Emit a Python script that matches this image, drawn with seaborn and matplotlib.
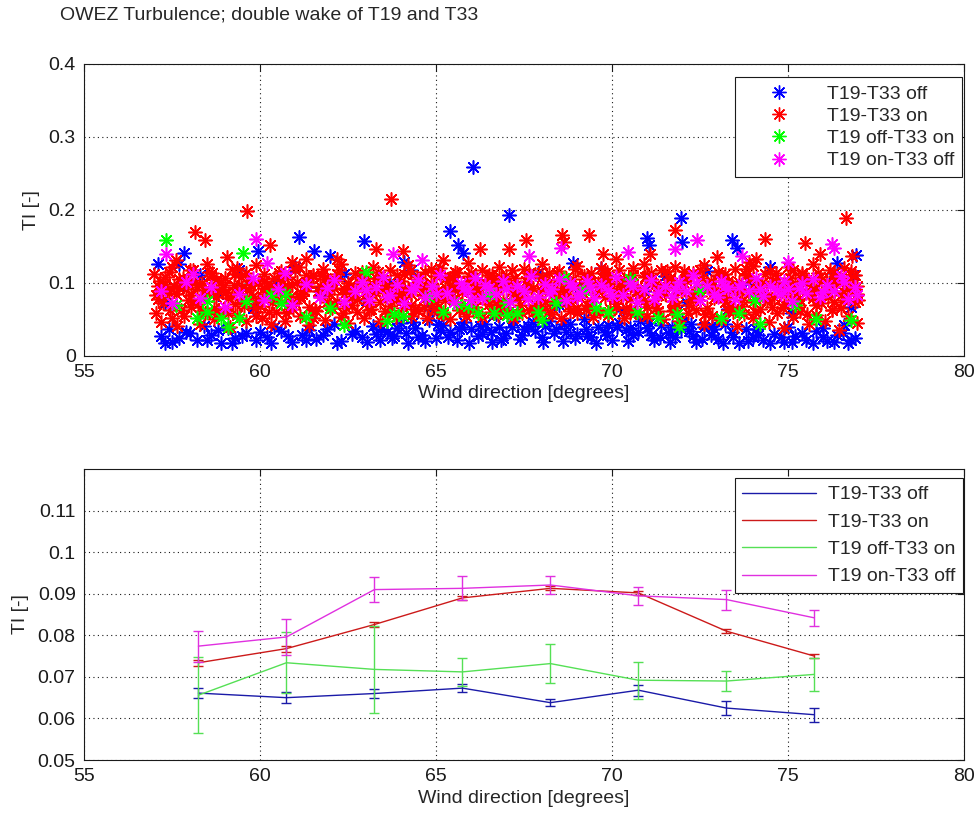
import matplotlib
matplotlib.use("Agg")
import matplotlib.pyplot as plt
from matplotlib.lines import Line2D
from matplotlib.ticker import FormatStrFormatter
import pandas as pd
import seaborn as sns

# ---------------------------------------------------------------------------
# Scatter data: (wind direction [deg], turbulence intensity [-]) per case
# ---------------------------------------------------------------------------
t19_t33_off = [
    (57.2, .027), (57.5, .019), (57.9, .033), (58.2, .022), (58.6, .029), (58.9, .018), (59.3, .024),
    (59.6, .031), (59.9, .021), (60.2, .026), (60.6, .034), (60.9, .019), (61.2, .028), (61.6, .023),
    (61.9, .036), (62.3, .020), (62.6, .030), (62.9, .025), (63.2, .041), (63.4, .022), (63.6, .033),
    (63.8, .027), (64.0, .045), (64.2, .018), (64.4, .038), (64.6, .029), (64.8, .049), (65.0, .024),
    (65.2, .042), (65.4, .033), (65.6, .021), (65.8, .046), (66.0, .036), (66.2, .027), (66.4, .044),
    (66.6, .019), (66.8, .039), (67.0, .031), (67.2, .048), (67.4, .023), (67.6, .041), (67.8, .034),
    (68.0, .026), (68.2, .047), (68.4, .037), (68.6, .020), (68.8, .043), (69.0, .030), (69.2, .050),
    (69.4, .025), (69.6, .040), (69.8, .033), (70.0, .021), (70.2, .045), (70.4, .035), (70.6, .028),
    (70.8, .048), (71.0, .038), (71.2, .022), (71.4, .042), (71.6, .031), (71.8, .026), (72.0, .046),
    (72.2, .034), (72.4, .019), (72.6, .039), (72.8, .028), (73.0, .023), (73.2, .043), (73.4, .032),
    (73.6, .018), (73.8, .036), (74.0, .025), (74.3, .021), (74.6, .030), (74.9, .019), (75.2, .027),
    (75.5, .022), (75.8, .034), (76.1, .020), (76.4, .028), (76.7, .018), (76.9, .024),
    (63.3, .030), (63.9, .038), (64.5, .025), (65.1, .035), (65.7, .040), (66.3, .030), (66.9, .024),
    (67.5, .036), (68.1, .041), (68.7, .032), (69.3, .027), (69.9, .042), (70.5, .038), (71.1, .029),
    (71.7, .040), (72.3, .027), (72.9, .036), (57.4, .036), (58.4, .041), (59.1, .038), (60.4, .040),
    (61.4, .035), (62.1, .043), (74.1, .037), (75.0, .040), (76.0, .038), (76.6, .042),
    (57.3, .018), (57.7, .024), (58.0, .031), (58.5, .021), (58.8, .035), (59.2, .017), (59.5, .027),
    (60.0, .033), (60.3, .018), (60.8, .027), (61.3, .021), (61.8, .029), (62.2, .017), (62.7, .034),
    (63.05, .019), (63.45, .036), (63.75, .024), (64.15, .031), (64.35, .046), (64.7, .020), (65.05, .044),
    (65.35, .026), (65.65, .037), (65.95, .018), (66.25, .041), (66.55, .033), (66.85, .021), (67.15, .039),
    (67.45, .028), (67.75, .046), (68.05, .019), (68.35, .031), (68.65, .044), (68.95, .024), (69.25, .037),
    (69.55, .018), (69.85, .029), (70.15, .040), (70.45, .020), (70.75, .033), (71.05, .045), (71.35, .026),
    (71.65, .019), (71.95, .036), (72.25, .044), (72.55, .023), (72.85, .041), (73.15, .018), (73.45, .025),
    (73.85, .020), (74.15, .029), (74.5, .017), (74.8, .025), (75.1, .019), (75.4, .031), (75.7, .017),
    (76.0, .026), (76.3, .019), (76.55, .031), (76.8, .022),
    (57.3, .072), (57.8, .095), (58.3, .110), (58.8, .084), (59.4, .117), (59.8, .066), (60.5, .103),
    (61.0, .121), (61.7, .089), (62.4, .112), (63.0, .076), (63.7, .099), (64.3, .118), (64.9, .062),
    (65.5, .091), (66.1, .107), (66.7, .057), (67.3, .083), (67.9, .114), (68.5, .069), (69.1, .096),
    (69.7, .120), (70.3, .061), (70.9, .088), (71.5, .109), (72.1, .073), (72.7, .116), (73.3, .064),
    (73.9, .101), (74.5, .122), (75.1, .058), (75.7, .092), (76.3, .113), (76.8, .067),
    (57.1, .125), (57.7, .125), (57.84, .141), (59.93, .143), (61.1, .163), (61.52, .143), (62.0, .137),
    (62.95, .157), (65.4, .171), (65.63, .151), (65.76, .141), (66.06, .258), (67.08, .193), (70.98, .161),
    (71.06, .152), (71.95, .188), (72.0, .156), (73.4, .159), (73.54, .148), (76.38, .127), (76.86, .111),
    (76.92, .138), (64.1, .128), (68.9, .127),
]

t19_t33_on = [
    (57.0, .112), (57.3, .098), (57.5, .121), (57.7, .105), (58.0, .117), (58.2, .094), (58.5, .125),
    (58.6, .109), (58.9, .101), (59.2, .119), (59.4, .092), (59.6, .114), (59.9, .124), (60.1, .103),
    (60.3, .097), (60.6, .116), (60.8, .108), (61.1, .122), (61.3, .095), (61.5, .111), (61.8, .119),
    (62.0, .104), (62.3, .126), (62.5, .099), (62.7, .113), (63.0, .107), (63.2, .121), (63.5, .093),
    (63.7, .118), (63.9, .110), (64.2, .124), (64.4, .100), (64.7, .115), (64.9, .096), (65.1, .120),
    (65.4, .106), (65.6, .113), (65.9, .127), (66.1, .098), (66.3, .117), (66.6, .104), (66.8, .122),
    (67.0, .109), (67.3, .095), (67.5, .119), (67.8, .112), (68.0, .125), (68.2, .101), (68.5, .116),
    (68.7, .106), (69.0, .123), (69.2, .097), (69.4, .114), (69.7, .120), (69.9, .103), (70.2, .118),
    (70.4, .094), (70.6, .111), (70.9, .126), (71.1, .105), (71.4, .117), (71.6, .099), (71.8, .121),
    (72.1, .108), (72.3, .113), (72.6, .124), (72.8, .096), (73.0, .115), (73.3, .102), (73.5, .119),
    (73.8, .110), (74.0, .123), (74.2, .097), (74.5, .116), (74.7, .106), (75.0, .121), (75.2, .100),
    (75.4, .114), (75.7, .125), (75.9, .108), (76.2, .118), (76.4, .103), (76.6, .120), (76.9, .111),
    (57.1, .078), (57.4, .086), (57.6, .069), (57.9, .091), (58.1, .074), (58.4, .083), (58.7, .066),
    (58.8, .089), (59.1, .079), (59.3, .071), (59.5, .093), (59.8, .082), (60.0, .068), (60.2, .087),
    (60.5, .076), (60.7, .092), (61.0, .072), (61.2, .085), (61.4, .067), (61.7, .080), (61.9, .090),
    (62.2, .075), (62.4, .084), (62.6, .070), (62.9, .094), (63.1, .081), (63.4, .073), (63.6, .088),
    (63.8, .077), (64.1, .091), (64.3, .069), (64.6, .083), (64.8, .086), (65.0, .074), (65.3, .092),
    (65.5, .079), (65.8, .068), (66.0, .088), (66.2, .082), (66.5, .071), (66.7, .094), (66.9, .077),
    (67.2, .085), (67.4, .070), (67.7, .090), (67.9, .080), (68.1, .073), (68.4, .087), (68.6, .093),
    (68.9, .076), (69.1, .084), (69.3, .069), (69.6, .089), (69.8, .081), (70.1, .072), (70.3, .092),
    (70.5, .078), (70.8, .086), (71.0, .067), (71.3, .083), (71.5, .091), (71.7, .075), (72.0, .088),
    (72.2, .070), (72.5, .082), (72.7, .094), (72.9, .079), (73.2, .073), (73.4, .087), (73.7, .068),
    (73.9, .084), (74.1, .090), (74.4, .076), (74.6, .081), (74.9, .071), (75.1, .093), (75.3, .078),
    (75.6, .085), (75.8, .069), (76.1, .089), (76.3, .074), (76.5, .083), (76.8, .091), (77.0, .077),
    (57.05, .058), (57.2, .046), (57.45, .063), (57.65, .041), (57.85, .054), (58.05, .067), (58.3, .044),
    (58.45, .059), (58.7, .050), (58.95, .062), (59.15, .039), (59.35, .056), (59.6, .047), (59.85, .065),
    (60.05, .052), (60.3, .043), (60.45, .060), (60.7, .048), (60.95, .064), (61.15, .055), (61.4, .042),
    (61.6, .061), (61.85, .049), (62.05, .066), (62.3, .053), (62.5, .045), (62.75, .060), (62.95, .051),
    (63.15, .064), (63.4, .047), (63.65, .058), (63.85, .053), (64.05, .066), (64.3, .055), (64.5, .061),
    (64.75, .052), (64.95, .064), (65.2, .057), (65.4, .050), (65.65, .062), (65.85, .055), (66.1, .067),
    (66.3, .053), (66.55, .060), (66.75, .056), (67.0, .065), (67.2, .051), (67.45, .059), (67.65, .063),
    (67.9, .054), (68.1, .066), (68.3, .057), (68.55, .052), (68.8, .061), (69.0, .058), (69.25, .064),
    (69.45, .053), (69.65, .060), (69.9, .056), (70.1, .067), (70.35, .051), (70.55, .062), (70.8, .057),
    (71.0, .054), (71.25, .065), (71.45, .050), (71.7, .061), (71.9, .047), (72.15, .058), (72.4, .063),
    (72.6, .044), (72.85, .055), (73.1, .049), (73.3, .062), (73.55, .041), (73.75, .057), (74.0, .052),
    (74.2, .064), (74.45, .046), (74.7, .059), (74.9, .038), (75.15, .053), (75.35, .061), (75.6, .044),
    (75.8, .056), (76.05, .048), (76.25, .063), (76.45, .035), (76.7, .054), (76.95, .045),
    (57.15, .102), (57.35, .088), (57.55, .095), (57.8, .107), (58.05, .083), (58.35, .099), (58.55, .091),
    (58.75, .104), (59.0, .087), (59.25, .097), (59.45, .108), (59.7, .090), (59.95, .100), (60.15, .085),
    (60.4, .106), (60.65, .094), (60.85, .081), (61.05, .101), (61.25, .089), (61.5, .109), (61.7, .096),
    (61.95, .084), (62.15, .103), (62.4, .092), (62.6, .080), (62.85, .098), (63.05, .088), (63.3, .106),
    (63.55, .099), (63.75, .084), (64.0, .103), (64.2, .093), (64.45, .108), (64.6, .089), (64.85, .100),
    (65.05, .083), (65.25, .105), (65.5, .094), (65.75, .087), (65.95, .109), (66.15, .091), (66.4, .101),
    (66.65, .085), (66.85, .106), (67.1, .097), (67.35, .082), (67.55, .103), (67.75, .093), (68.0, .108),
    (68.25, .088), (68.45, .099), (68.65, .084), (68.9, .105), (69.05, .092), (69.35, .101), (69.55, .086),
    (69.75, .107), (70.0, .095), (70.25, .083), (70.45, .102), (70.7, .090), (70.95, .108), (71.2, .096),
    (71.4, .085), (71.65, .104), (71.85, .091), (72.05, .100), (72.35, .087), (72.55, .107), (72.75, .093),
    (72.95, .082), (73.15, .103), (73.4, .097), (73.65, .088), (73.85, .106), (74.1, .094), (74.3, .084),
    (74.55, .102), (74.8, .090), (75.05, .107), (75.25, .086), (75.5, .099), (75.75, .092), (75.95, .104),
    (76.15, .081), (76.35, .098), (76.55, .089), (76.75, .106), (76.95, .095),
    (57.1, .095), (57.25, .072), (57.4, .115), (57.6, .084), (57.75, .062), (57.95, .099), (58.1, .118),
    (58.25, .071), (58.4, .090), (58.65, .113), (58.8, .057), (59.0, .106), (59.2, .083), (59.35, .120),
    (59.55, .068), (59.75, .097), (59.95, .076), (60.1, .112), (60.25, .060), (60.45, .088), (60.6, .104),
    (60.8, .070), (61.0, .117), (61.15, .082), (61.35, .100), (61.55, .063), (61.75, .110), (61.9, .074),
    (62.1, .093), (62.25, .118), (62.45, .065), (62.65, .087), (62.8, .108), (63.0, .072), (63.2, .098),
    (63.35, .115), (63.55, .061), (63.75, .091), (63.9, .079), (64.1, .112), (64.3, .084), (64.5, .098),
    (64.65, .067), (64.85, .119), (65.05, .090), (65.25, .076), (65.45, .108), (65.6, .095), (65.8, .063),
    (66.0, .114), (66.2, .086), (66.4, .078), (66.6, .110), (66.8, .066), (67.0, .100), (67.15, .117),
    (67.4, .081), (67.6, .096), (67.8, .061), (68.0, .089), (68.2, .113), (68.35, .075), (68.55, .103),
    (68.75, .068), (68.95, .119), (69.15, .087), (69.3, .108), (69.5, .062), (69.7, .094), (69.85, .115),
    (70.05, .078), (70.25, .099), (70.4, .066), (70.6, .120), (70.8, .083), (71.0, .109), (71.2, .071),
    (71.35, .095), (71.55, .116), (71.75, .063), (71.95, .088), (72.1, .104), (72.3, .077), (72.5, .118),
    (72.7, .065), (72.85, .091), (73.05, .110), (73.25, .080), (73.45, .060), (73.6, .101), (73.8, .119),
    (74.0, .073), (74.2, .095), (74.35, .112), (74.55, .067), (74.75, .098), (74.95, .086), (75.15, .117),
    (75.3, .070), (75.5, .104), (75.7, .079), (75.85, .113), (76.05, .092), (76.25, .062), (76.4, .107),
    (76.6, .076), (76.8, .116), (76.95, .085),
    (57.05, .083), (57.3, .108), (57.5, .052), (57.7, .093), (57.95, .076), (58.15, .101), (58.35, .061),
    (58.55, .115), (58.75, .080), (58.95, .094), (59.1, .058), (59.3, .112), (59.5, .078), (59.7, .103),
    (59.9, .055), (60.1, .093), (60.35, .073), (60.55, .114), (60.75, .059), (60.9, .097), (61.1, .081),
    (61.3, .110), (61.5, .052), (61.65, .089), (61.85, .105), (62.0, .070), (62.2, .112), (62.35, .058),
    (62.55, .095), (62.75, .078), (62.9, .115), (63.1, .063), (63.3, .086), (63.5, .104), (63.7, .068),
    (63.85, .093), (64.05, .080), (64.25, .116), (64.4, .064), (64.6, .097), (64.8, .075), (65.0, .109),
    (65.15, .058), (65.35, .088), (65.55, .115), (65.7, .071), (65.9, .101), (66.05, .062), (66.25, .092),
    (66.5, .111), (66.7, .074), (66.9, .096), (67.05, .060), (67.25, .107), (67.45, .087), (67.65, .113),
    (67.85, .069), (68.05, .098), (68.25, .060), (68.45, .114), (68.6, .080), (68.8, .091), (69.0, .066),
    (69.2, .109), (69.4, .075), (69.6, .099), (69.8, .113), (69.95, .064), (70.15, .089), (70.35, .105),
    (70.5, .058), (70.7, .094), (70.9, .075), (71.1, .113), (71.3, .061), (71.5, .085), (71.65, .107),
    (71.85, .070), (72.05, .116), (72.25, .082), (72.45, .094), (72.65, .057), (72.8, .103), (73.0, .088),
    (73.2, .112), (73.35, .067), (73.5, .091), (73.7, .076), (73.9, .108), (74.05, .060), (74.25, .099),
    (74.4, .081), (74.65, .114), (74.85, .066), (75.0, .095), (75.2, .077), (75.4, .110), (75.55, .057),
    (75.75, .088), (75.95, .072), (76.1, .101), (76.3, .115), (76.5, .066), (76.7, .093), (76.9, .073),
    (58.15, .169), (58.44, .159), (59.62, .198), (60.28, .151), (59.05, .135), (61.3, .133), (63.3, .146),
    (63.72, .215), (67.55, .158), (68.57, .166), (69.35, .166), (68.64, .156), (67.07, .146), (66.25, .146),
    (71.08, .140), (64.07, .143), (69.73, .140), (71.79, .172), (74.35, .160), (75.47, .155), (76.64, .188),
    (75.91, .140), (76.81, .136), (72.97, .135), (74.1, .132), (57.6, .131), (60.9, .129), (62.2, .132),
    (65.2, .131), (70.1, .133), (73.9, .129),
]

t19_off_t33_on = [
    (57.32, .159), (59.53, .141), (58.5, .060), (58.2, .051), (59.6, .075), (59.4, .051), (60.6, .072),
    (60.7, .084), (60.3, .083), (61.3, .053), (62.4, .042), (59.1, .039), (63.0, .115), (58.9, .051),
    (58.5, .075), (63.82, .057), (64.06, .055), (63.6, .047), (65.2, .060), (65.6, .071), (65.9, .068),
    (66.2, .058), (66.5, .084), (66.65, .059), (67.0, .072), (67.03, .056), (67.3, .058), (67.9, .060),
    (68.4, .072), (68.65, .106), (68.0, .049), (69.55, .065), (69.9, .060), (70.5, .105), (70.7, .060),
    (71.3, .051), (71.85, .057), (73.1, .051), (74.05, .077), (74.2, .043), (75.8, .050), (76.8, .049),
    (71.9, .040), (73.6, .059), (57.6, .070), (62.0, .066), (64.8, .081), (72.5, .088), (75.2, .070),
    (69.2, .090),
]

t19_on_t33_off = [
    (57.33, .139), (59.9, .160), (57.2, .088), (57.5, .072), (57.9, .101), (58.3, .079), (58.6, .094),
    (59.0, .067), (59.4, .085), (59.8, .106), (60.1, .076), (60.5, .091), (60.9, .070), (61.3, .098),
    (61.7, .081), (62.1, .104), (62.4, .073), (58.1, .112), (60.7, .114), (61.9, .093),
    (62.7, .088), (62.9, .101), (63.1, .077), (63.3, .094), (63.5, .108), (63.7, .083), (63.9, .097),
    (64.1, .072), (64.3, .090), (64.5, .104), (64.7, .080), (64.9, .095), (65.1, .110), (65.3, .086),
    (65.5, .074), (65.7, .099), (65.9, .089), (66.1, .106), (66.3, .079), (66.5, .093), (66.7, .085),
    (66.9, .102), (67.1, .074), (67.3, .096), (67.5, .088), (67.7, .109), (67.9, .081), (68.1, .098),
    (68.3, .091), (68.5, .105), (68.7, .077), (68.9, .094), (69.1, .086), (69.3, .103), (69.5, .079),
    (69.7, .097), (69.9, .090), (70.1, .108), (70.3, .083), (70.5, .099), (70.7, .073), (70.9, .092),
    (71.1, .104), (71.3, .087), (71.5, .096), (71.7, .080), (71.9, .101), (72.1, .089), (72.3, .110),
    (72.5, .076), (72.7, .095), (72.9, .085), (73.1, .103), (73.3, .091), (73.5, .078), (73.7, .098),
    (73.9, .088), (74.1, .107), (74.3, .082), (74.5, .096), (74.7, .090), (74.9, .102), (75.1, .075),
    (75.3, .093), (75.5, .086), (75.7, .105), (75.9, .081), (76.1, .097), (76.3, .089), (76.5, .109),
    (76.7, .078), (76.9, .094),
    (63.0, .090), (63.6, .081), (64.4, .094), (65.0, .084), (65.8, .093), (66.4, .097), (67.0, .091),
    (67.6, .078), (68.2, .086), (68.8, .100), (69.4, .093), (70.0, .082), (70.6, .096), (71.2, .078),
    (71.8, .092), (72.4, .099), (73.0, .080), (73.6, .094), (74.2, .091), (74.8, .084), (75.4, .099),
    (76.0, .087), (76.6, .101), (76.95, .083), (75.0, .092), (73.2, .096), (69.0, .080), (66.0, .076),
    (63.79, .139), (67.63, .136), (68.54, .148), (70.44, .142), (71.79, .146), (72.42, .159), (73.68, .136),
    (76.24, .153), (76.32, .147), (60.2, .127), (64.6, .131), (75.0, .128),
]

# ---------------------------------------------------------------------------
# Bin-averaged turbulence intensity with error bars (2.5 deg bins)
# ---------------------------------------------------------------------------
bin_centres = [58.25, 60.75, 63.25, 65.75, 68.25, 70.75, 73.25, 75.75]
mean_off_off = [0.0661, 0.0650, 0.0660, 0.0673, 0.0638, 0.0668, 0.0625, 0.0609]
err_off_off = [0.0012, 0.0013, 0.0010, 0.0010, 0.0009, 0.0013, 0.0016, 0.0017]
mean_on_on = [0.0734, 0.0768, 0.0826, 0.0890, 0.0913, 0.0902, 0.0810, 0.0750]
err_on_on = [0.0007, 0.0007, 0.0005, 0.0005, 0.0005, 0.0004, 0.0004, 0.0004]
mean_off_on = [0.0656, 0.0734, 0.0718, 0.0712, 0.0732, 0.0692, 0.0690, 0.0706]
err_off_on = [0.0092, 0.0073, 0.0104, 0.0034, 0.0046, 0.0044, 0.0025, 0.0039]
mean_on_off = [0.0774, 0.0796, 0.0910, 0.0913, 0.0921, 0.0895, 0.0886, 0.0842]
err_on_off = [0.0037, 0.0043, 0.0031, 0.0029, 0.0021, 0.0022, 0.0024, 0.0020]

labels = ["T19-T33 off", "T19-T33 on", "T19 off-T33 on", "T19 on-T33 off"]
scatter_colors = ["#0000ff", "#ff0000", "#00ff00", "#ff00ff"]
line_colors = ["#1a1aa8", "#cc1a1a", "#55e055", "#e030e0"]

# ---------------------------------------------------------------------------
sns.set_theme(style="white")
plt.rcParams["font.family"] = ["Liberation Sans", "DejaVu Sans"]
FS = 14

fig = plt.figure(figsize=(9.77, 8.14), dpi=100)
ax1 = fig.add_axes([0.086, 0.563, 0.9007, 0.3587])
ax2 = fig.add_axes([0.086, 0.0663, 0.9007, 0.3575])

asterisk = (8, 2, 0)

frames = []
for lab, pts in zip(labels, [t19_t33_off, t19_t33_on, t19_off_t33_on, t19_on_t33_off]):
    d = pd.DataFrame(pts, columns=["direction", "ti"])
    d["case"] = lab
    frames.append(d)
scatter_df = pd.concat(frames, ignore_index=True)

for lab, col in zip(labels, scatter_colors):
    sns.scatterplot(data=scatter_df[scatter_df["case"] == lab], x="direction", y="ti",
                    marker=asterisk, s=92, linewidth=1.15, color=col, ax=ax1,
                    legend=False, zorder=3)

line_df = pd.DataFrame({"direction": bin_centres * 4,
                        "ti": mean_off_off + mean_on_on + mean_off_on + mean_on_off,
                        "err": err_off_off + err_on_on + err_off_on + err_on_off,
                        "case": [l for l in labels for _ in bin_centres]})

for lab, col in zip(labels, line_colors):
    sub = line_df[line_df["case"] == lab]
    sns.lineplot(data=sub, x="direction", y="ti", color=col, linewidth=1.0,
                 ax=ax2, legend=False, zorder=3)
    ax2.errorbar(sub["direction"], sub["ti"], yerr=sub["err"], fmt="none",
                 ecolor=col, elinewidth=1.0, capsize=3.4, capthick=1.0, zorder=3)

for ax in (ax1, ax2):
    ax.set_xlim(55, 80)
    ax.set_xticks([55, 60, 65, 70, 75, 80])
    ax.grid(True, color="k", linestyle=(0, (1, 3)), linewidth=0.8)
    ax.set_axisbelow(True)
    ax.tick_params(direction="in", length=5, width=0.8, top=True, right=True,
                   labelsize=FS, colors="k", pad=6)
    for sp in ax.spines.values():
        sp.set_color("k")
        sp.set_linewidth(0.8)
    ax.set_xlabel("Wind direction [degrees]", fontsize=FS, labelpad=3)
    ax.set_ylabel("TI [-]", fontsize=FS, labelpad=6)
    ax.yaxis.set_major_formatter(FormatStrFormatter("%g"))

ax1.set_ylim(0, 0.4)
ax1.set_yticks([0, 0.1, 0.2, 0.3, 0.4])
ax2.set_ylim(0.05, 0.12)
ax2.set_yticks([0.05, 0.06, 0.07, 0.08, 0.09, 0.1, 0.11])

leg_kw = dict(loc="upper right", fontsize=FS, frameon=True, fancybox=False,
              framealpha=1, edgecolor="k", borderaxespad=0, borderpad=0.4)

star_handles = [Line2D([], [], linestyle="none", marker=asterisk, markersize=10,
                       markeredgewidth=1.0, color=c) for c in scatter_colors]
leg1 = ax1.legend(star_handles, labels, bbox_to_anchor=(0.9977, 0.954),
                  handlelength=3.7, handletextpad=0.6, labelspacing=0.24, **leg_kw)
leg1.get_frame().set_linewidth(0.8)

line_handles = [Line2D([], [], color=c, linewidth=1.0) for c in line_colors]
leg2 = ax2.legend(line_handles, labels, bbox_to_anchor=(0.999, 0.969),
                  handlelength=3.8, handletextpad=0.6, labelspacing=0.5, **leg_kw)
leg2.get_frame().set_linewidth(0.8)

fig.text(60 / 977, 1 - 15 / 814, "OWEZ Turbulence; double wake of T19 and T33",
         fontsize=FS, ha="left", va="center")

fig.savefig("out.png", dpi=100, facecolor="white")
